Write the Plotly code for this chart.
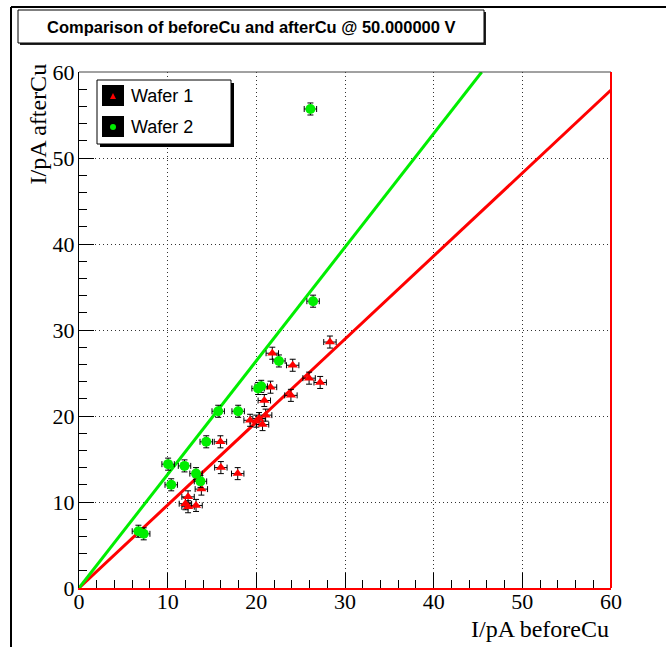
import plotly.graph_objects as go

# Measured currents (pA) before and after Cu, at 50 V
wafer1_before = [12.0, 12.3, 12.3, 13.2, 13.8, 16.0, 17.9, 15.95, 19.3, 20.0, 20.3,
                 20.7, 21.05, 20.9, 21.6, 21.8, 24.1, 23.9, 25.95, 27.2, 28.3]
wafer1_after = [9.8, 9.45, 10.6, 9.6, 11.5, 14.0, 13.3, 17.0, 19.5, 19.4, 19.7,
                19.0, 20.1, 21.8, 23.35, 27.3, 25.9, 22.4, 24.4, 23.9, 28.6]

wafer2_before = [6.7, 7.3, 10.05, 10.4, 11.9, 13.2, 13.7, 14.35, 15.7, 17.95,
                 20.2, 20.55, 22.55, 26.4, 26.1]
wafer2_after = [6.6, 6.3, 14.4, 12.0, 14.2, 13.3, 12.4, 17.0, 20.55, 20.55,
                23.2, 23.45, 26.4, 33.35, 55.7]

err_before = 0.7
err_after = 0.7

# Proportional fits (after = slope * before)
wafer1_slope = 0.965
wafer2_slope = 1.321

axis_min, axis_max = 0, 60
axis_ticks = [0, 10, 20, 30, 40, 50, 60]

title_text = "Comparison of beforeCu and afterCu @ 50.000000 V"
legend_labels = ["Wafer 1", "Wafer 2"]
xtitle = "I/pA beforeCu"
ytitle = "I/pA afterCu"

RED = "#ff0000"
GREEN = "#00ee00"

# canvas geometry (pixels)
WIDTH, HEIGHT = 666, 647
L, R, T, B = 79, 611, 72, 588
PW, PH = R - L, B - T


def px(x):
    return (x - L) / PW


def py(y):
    return (B - y) / PH


fig = go.Figure()

# fit lines
x_end1 = axis_max
fig.add_trace(go.Scatter(
    x=[0, x_end1], y=[0, wafer1_slope * x_end1], mode="lines",
    line=dict(color=RED, width=3), hoverinfo="skip"))
x_end2 = axis_max / wafer2_slope
fig.add_trace(go.Scatter(
    x=[0, x_end2], y=[0, wafer2_slope * x_end2], mode="lines",
    line=dict(color=GREEN, width=3), hoverinfo="skip"))

err_style = dict(type="constant", color="black", thickness=1, width=3)

fig.add_trace(go.Scatter(
    x=wafer1_before, y=wafer1_after, mode="markers", name=legend_labels[0],
    marker=dict(symbol="triangle-up", size=9, color=RED, line=dict(width=0)),
    error_x=dict(value=err_before, **err_style),
    error_y=dict(value=err_after, **err_style)))
fig.add_trace(go.Scatter(
    x=wafer2_before, y=wafer2_after, mode="markers", name=legend_labels[1],
    marker=dict(symbol="circle", size=10, color=GREEN, line=dict(width=0)),
    error_x=dict(value=err_before, **err_style),
    error_y=dict(value=err_after, **err_style)))

serif = "Liberation Serif"
sans = "Liberation Sans"

axis_common = dict(
    range=[axis_min, axis_max], tickvals=axis_ticks,
    ticks="inside", ticklen=15, tickwidth=1, tickcolor="black",
    minor=dict(dtick=2, ticks="inside", ticklen=8, tickwidth=1,
               tickcolor="black", showgrid=False),
    showgrid=True, gridcolor="#333333", griddash="1px,3px", gridwidth=1,
    zeroline=False, showline=True,
    tickfont=dict(family=serif, size=22, color="black"),
)

fig.update_xaxes(**axis_common, linecolor=RED, linewidth=2, ticklabelstandoff=-7)
fig.update_yaxes(**axis_common, linecolor="black", linewidth=1, ticklabelstandoff=-1)

shapes = []
# canvas border (top and left)
shapes.append(dict(type="line", xref="paper", yref="paper",
                   x0=px(11), x1=px(WIDTH + 5), y0=py(7), y1=py(7),
                   line=dict(color="black", width=2)))
shapes.append(dict(type="line", xref="paper", yref="paper",
                   x0=px(11), x1=px(11), y0=py(7), y1=py(HEIGHT + 5),
                   line=dict(color="black", width=2)))
# frame: top and right edges
shapes.append(dict(type="line", xref="paper", yref="paper",
                   x0=0, x1=1, y0=1, y1=1, line=dict(color="#444444", width=1)))
shapes.append(dict(type="line", xref="paper", yref="paper",
                   x0=1, x1=1, y0=0, y1=1, line=dict(color=RED, width=2)))

# title box with shadow
shapes.append(dict(type="rect", xref="paper", yref="paper",
                   x0=px(20), x1=px(486), y0=py(12), y1=py(45),
                   fillcolor="#222222", line=dict(width=0)))
shapes.append(dict(type="rect", xref="paper", yref="paper",
                   x0=px(18), x1=px(484), y0=py(10), y1=py(43),
                   fillcolor="white", line=dict(color="black", width=1)))

# legend box with shadow
shapes.append(dict(type="rect", xref="paper", yref="paper",
                   x0=px(100), x1=px(234), y0=py(83), y1=py(147),
                   fillcolor="black", line=dict(width=0)))
shapes.append(dict(type="rect", xref="paper", yref="paper",
                   x0=px(97), x1=px(231), y0=py(80), y1=py(144),
                   fillcolor="white", line=dict(color="black", width=1)))
# legend swatches
for top in (85, 116):
    shapes.append(dict(type="rect", xref="paper", yref="paper",
                       x0=px(102), x1=px(124), y0=py(top), y1=py(top + 21),
                       fillcolor="black", line=dict(width=0)))
# red triangle and green dot inside the swatches
shapes.append(dict(type="path", xref="paper", yref="paper",
                   path=f"M {px(110)},{py(99)} L {px(116)},{py(99)} L {px(113)},{py(93)} Z",
                   fillcolor=RED, line=dict(width=0)))
shapes.append(dict(type="circle", xref="paper", yref="paper",
                   x0=px(110), x1=px(116), y0=py(124), y1=py(130),
                   fillcolor=GREEN, line=dict(width=0)))

annotations = [
    dict(text=f"<b>{title_text}</b>", xref="paper", yref="paper",
         x=px(251), y=py(27), xanchor="center", yanchor="middle",
         showarrow=False, font=dict(family=sans, size=16.5, color="black")),
    dict(text=legend_labels[0], xref="paper", yref="paper",
         x=px(129), y=py(96), xanchor="left", yanchor="middle",
         showarrow=False, font=dict(family=sans, size=18, color="black")),
    dict(text=legend_labels[1], xref="paper", yref="paper",
         x=px(129), y=py(127), xanchor="left", yanchor="middle",
         showarrow=False, font=dict(family=sans, size=18, color="black")),
    dict(text=xtitle, xref="paper", yref="paper",
         x=px(611), y=py(629), xanchor="right", yanchor="middle",
         showarrow=False, font=dict(family=serif, size=24, color="black")),
    dict(text=ytitle, xref="paper", yref="paper",
         x=px(38), y=py(62), xanchor="center", yanchor="top", textangle=-90,
         showarrow=False, font=dict(family=serif, size=24, color="black")),
]

fig.update_layout(
    width=WIDTH, height=HEIGHT,
    margin=dict(l=L, r=WIDTH - R, t=T, b=HEIGHT - B, pad=0),
    paper_bgcolor="white", plot_bgcolor="white",
    showlegend=False, shapes=shapes, annotations=annotations,
)

fig.write_html("out.html")
